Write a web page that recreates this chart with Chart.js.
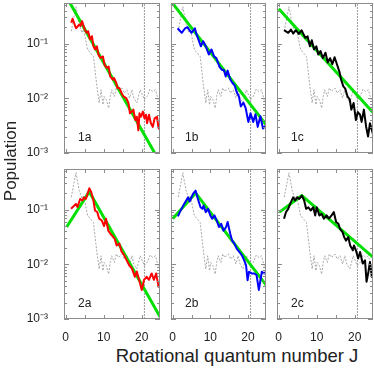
<!DOCTYPE html>
<html>
<head>
<meta charset="utf-8">
<script src="https://cdn.jsdelivr.net/npm/chart.js@4.4.0/dist/chart.umd.min.js"></script>
<style>
  html, body { margin: 0; padding: 0; background: #fff; }
  body { width: 374px; height: 372px; position: relative; overflow: hidden;
         font-family: 'Liberation Sans', Arial, sans-serif; color: #222; }
  canvas { position: absolute; }
  .ytitle { position: absolute; left: 11px; top: 161px; font-size: 17px; white-space: nowrap;
            transform: translate(-50%, -50%) rotate(-90deg); }
  .xtitle { position: absolute; left: 237px; top: 345px; font-size: 18.5px; white-space: nowrap;
            transform: translateX(-50%); }
</style>
</head>
<body>
<canvas id="p1a"></canvas>
<canvas id="p1b"></canvas>
<canvas id="p1c"></canvas>
<canvas id="p2a"></canvas>
<canvas id="p2b"></canvas>
<canvas id="p2c"></canvas>
<div class="ytitle">Population</div>
<div class="xtitle">Rotational quantum number J</div>
<script>
(() => {
  'use strict';

  // reference distribution (gray dotted, same in every panel)
  const grayJ = [1.45, 2.7, 3.55, 4.3, 4.7, 5.75, 7.3, 8.2, 8.8, 9.3, 9.8, 10.1, 10.7, 11.3, 11.7, 12.1, 12.8, 13.3, 13.9, 14.3,
    14.8, 15.4, 16.1, 16.8, 17.4, 17.9, 18.7, 19.6, 20.7, 21.4, 22.2, 22.9, 23.6, 24.3, 24.9];
  const grayPop = [0.168, 0.47, 0.223, 0.157, 0.18, 0.078, 0.058, 0.0165, 0.0082, 0.0143, 0.0076, 0.0108, 0.0094, 0.0066, 0.0108,
    0.0143, 0.0108, 0.0154, 0.0133, 0.0143, 0.0154, 0.0124, 0.0143, 0.0101, 0.0143, 0.0101, 0.0082, 0.0143, 0.0094, 0.0108,
    0.0147, 0.0133, 0.0143, 0.0094, 0.0082];

  const red1aJ = [1.45, 1.8, 2.7, 3.6, 3.9, 4.3, 5.0, 5.5, 5.9, 6.4, 6.9, 7.3, 7.7, 8.2, 8.6, 9.1, 9.8, 10.2, 10.8, 11.3,
    11.7, 12.4, 12.7, 13.3, 13.6, 14.1, 14.7, 15.2, 15.9, 16.5, 16.9, 17.4, 17.8, 18.3, 18.7, 19.1, 19.4, 19.8, 20.3, 20.7,
    21.1, 21.4, 21.9, 22.4, 22.9, 23.4, 24.0, 24.4, 24.9];
  const red1aPop = [0.24, 0.284, 0.19, 0.223, 0.21, 0.257, 0.18, 0.157, 0.168, 0.118, 0.136, 0.089, 0.078, 0.089, 0.063, 0.0547,
    0.058, 0.041, 0.036, 0.038, 0.025, 0.0218, 0.0235, 0.019, 0.0154, 0.0154, 0.0124, 0.0108, 0.0101, 0.0082, 0.0053, 0.0057,
    0.0062, 0.004, 0.0046, 0.0026, 0.0053, 0.0046, 0.0057, 0.0043, 0.005, 0.0035, 0.005, 0.0035, 0.003, 0.0043, 0.0046, 0.0029, 0.0026];

  const blue1bJ = [1.3, 2.4, 3.3, 3.9, 5.0, 5.9, 6.3, 7.5, 8.1, 8.8, 9.6, 10.3, 11.0, 11.6, 12.4, 13.1, 13.6, 14.1, 14.6, 15.3,
    15.9, 16.5, 17.0, 17.6, 18.1, 18.8, 19.4, 20.1, 20.7, 21.4, 22.0, 22.6, 23.3, 24.0, 24.8];
  const blue1bPop = [0.19, 0.157, 0.19, 0.2, 0.157, 0.19, 0.15, 0.089, 0.11, 0.089, 0.063, 0.078, 0.058, 0.054, 0.038, 0.033,
    0.033, 0.025, 0.032, 0.022, 0.019, 0.017, 0.013, 0.0108, 0.0071, 0.0083, 0.0066, 0.0037, 0.0053, 0.0037, 0.0051, 0.003,
    0.0047, 0.0028, 0.0032];

  const black1cJ = [1.4, 2.5, 3.2, 3.8, 4.5, 5.3, 6.0, 7.0, 7.6, 8.2, 8.7, 9.3, 9.9, 10.4, 11.0, 11.6, 12.3, 12.9, 13.5, 14.1,
    14.7, 15.4, 16.0, 16.4, 17.0, 17.5, 18.1, 18.7, 19.1, 19.7, 20.3, 20.8, 21.4, 21.8, 22.4, 23.0, 23.5, 24.0, 24.8];
  const black1cPop = [0.175, 0.157, 0.18, 0.152, 0.175, 0.15, 0.175, 0.127, 0.135, 0.089, 0.115, 0.078, 0.089, 0.063, 0.073,
    0.054, 0.068, 0.045, 0.054, 0.042, 0.056, 0.04, 0.03, 0.022, 0.0165, 0.015, 0.0108, 0.0094, 0.0062, 0.0082, 0.004, 0.0056,
    0.005, 0.0037, 0.0062, 0.003, 0.002, 0.0035, 0.0022];

  const red2aJ = [1.4, 2.7, 3.1, 3.8, 4.4, 4.8, 5.3, 6.2, 6.7, 7.3, 7.7, 8.3, 8.8, 9.5, 10.1, 10.6, 11.2, 11.8, 12.4, 12.9,
    13.4, 14.1, 14.7, 15.3, 16.0, 16.7, 17.4, 18.2, 18.7, 19.3, 20.0, 20.6, 21.3, 21.9, 22.6, 23.2, 23.8, 24.4, 24.8];
  const red2aPop = [0.103, 0.127, 0.111, 0.156, 0.146, 0.167, 0.156, 0.244, 0.21, 0.146, 0.096, 0.09, 0.068, 0.063, 0.05,
    0.068, 0.041, 0.036, 0.032, 0.029, 0.022, 0.024, 0.017, 0.015, 0.012, 0.0096, 0.0084, 0.0059, 0.0074, 0.0052, 0.0034,
    0.0052, 0.0059, 0.0052, 0.0068, 0.0052, 0.0068, 0.0039, 0.0042];

  const blue2bJ = [1.4, 1.9, 2.8, 4.1, 4.5, 5.4, 6.1, 6.7, 7.4, 7.9, 8.2, 8.8, 9.4, 10.0, 10.5, 11.1, 11.7, 12.3, 12.9, 13.5,
    14.2, 14.6, 15.3, 15.8, 16.4, 17.0, 17.7, 18.4, 19.0, 19.5, 19.9, 20.3, 21.0, 21.7, 22.3, 22.9, 23.7, 24.3, 24.8];
  const blue2bPop = [0.075, 0.0895, 0.118, 0.167, 0.14, 0.193, 0.221, 0.156, 0.11, 0.103, 0.118, 0.0895, 0.103, 0.078, 0.068,
    0.078, 0.063, 0.048, 0.055, 0.041, 0.048, 0.059, 0.036, 0.027, 0.0238, 0.0193, 0.0168, 0.0146, 0.0118, 0.0096, 0.0051,
    0.0073, 0.0068, 0.0068, 0.0063, 0.0034, 0.0073, 0.0068, 0.0073];

  const black2cJ = [1.4, 1.9, 2.5, 3.0, 3.8, 4.3, 4.9, 5.4, 6.1, 6.7, 7.2, 7.8, 8.4, 9.1, 9.6, 10.0, 10.7, 11.3, 11.9, 12.6,
    13.2, 13.9, 14.5, 15.1, 15.7, 16.1, 16.8, 17.2, 17.7, 18.3, 18.8, 19.5, 19.8, 20.3, 20.9, 21.4, 22.1, 22.7, 23.1, 23.6,
    24.0, 24.5, 24.8];
  const black2cPop = [0.068, 0.0895, 0.103, 0.127, 0.167, 0.146, 0.167, 0.156, 0.18, 0.146, 0.103, 0.11, 0.096, 0.11, 0.078,
    0.11, 0.078, 0.083, 0.068, 0.078, 0.068, 0.078, 0.0895, 0.059, 0.055, 0.0445, 0.0387, 0.0314, 0.027, 0.0314, 0.0221, 0.018,
    0.0221, 0.018, 0.0127, 0.0168, 0.0103, 0.0118, 0.0048, 0.0073, 0.011, 0.0059, 0.0063];

  // green fits
  const fit1aJ = [1.0, 23.4], fit1aPop = [0.57, 0.001];
  const fit1bJ = [0, 24.8], fit1bPop = [0.54, 0.0033];
  const fit1cJ = [0, 24.8], fit1cPop = [0.43, 0.0055];
  const fit2aJ = [0.25, 6.2, 24.8], fit2aPop = [0.048, 0.212, 0.0011];
  const fit2bJ = [0, 6.1, 24.8], fit2bPop = [0.068, 0.2, 0.0042];
  const fit2cJ = [0.2, 6.1, 24.8], fit2cPop = [0.0895, 0.18, 0.0135];

  const cutoffJ = 20.7;

  const xTicks = [0, 10, 20];
  const xTickMarks = [0, 5, 10, 15, 20];
  const yTicks = [0.001, 0.01, 0.1];
  const yTickLabels = ['10⁻³', '10⁻²', '10⁻¹'];
  const yTickMarks = [0.001, 0.002, 0.003, 0.004, 0.005, 0.006, 0.007, 0.008, 0.009,
    0.01, 0.02, 0.03, 0.04, 0.05, 0.06, 0.07, 0.08, 0.09, 0.1, 0.2, 0.3, 0.4, 0.5];

  const panels = [
    { id: 'p1a', name: '1a', col: 0, row: 0, color: '#ff0000', J: red1aJ, pop: red1aPop, fitJ: fit1aJ, fitPop: fit1aPop },
    { id: 'p1b', name: '1b', col: 1, row: 0, color: '#0000ff', J: blue1bJ, pop: blue1bPop, fitJ: fit1bJ, fitPop: fit1bPop },
    { id: 'p1c', name: '1c', col: 2, row: 0, color: '#000000', J: black1cJ, pop: black1cPop, fitJ: fit1cJ, fitPop: fit1cPop },
    { id: 'p2a', name: '2a', col: 0, row: 1, color: '#ff0000', J: red2aJ, pop: red2aPop, fitJ: fit2aJ, fitPop: fit2aPop },
    { id: 'p2b', name: '2b', col: 1, row: 1, color: '#0000ff', J: blue2bJ, pop: blue2bPop, fitJ: fit2bJ, fitPop: fit2bPop },
    { id: 'p2c', name: '2c', col: 2, row: 1, color: '#000000', J: black2cJ, pop: black2cPop, fitJ: fit2cJ, fitPop: fit2cPop }
  ];

  // panel frames in page pixels
  const colLeft = [64, 171, 277], colRight = [160, 266, 373];
  const rowTop = [3, 169], rowBottom = [153, 319];
  const L = 40, R = 1, T = 4, B = 24;

  const pts = (xs, ys) => xs.map((x, i) => ({ x: x, y: ys[i] }));

  const framePlugin = {
    id: 'frame',
    afterDraw(chart, args, opts) {
      const { ctx, chartArea: a, scales: { x, y } } = chart;
      ctx.save();
      ctx.strokeStyle = '#8c8c8c';
      ctx.lineWidth = 1;
      ctx.strokeRect(a.left + 0.5, a.top + 0.5, a.right - a.left - 1, a.bottom - a.top - 1);
      ctx.beginPath();
      yTickMarks.forEach(v => {
        const py = Math.round(y.getPixelForValue(v)) + 0.5;
        const len = yTicks.includes(v) ? 5 : 3;
        ctx.moveTo(a.left, py); ctx.lineTo(a.left + len, py);
        ctx.moveTo(a.right, py); ctx.lineTo(a.right - len, py);
      });
      xTickMarks.forEach(v => {
        const px = Math.round(x.getPixelForValue(v)) + 0.5;
        ctx.moveTo(px, a.bottom); ctx.lineTo(px, a.bottom - 4);
        ctx.moveTo(px, a.top); ctx.lineTo(px, a.top + 4);
      });
      ctx.stroke();
      ctx.fillStyle = '#222';
      ctx.font = '12px "Liberation Sans", Arial, sans-serif';
      ctx.textBaseline = 'alphabetic';
      ctx.fillText(opts.name, a.left + 14, a.bottom - 12);
      ctx.restore();
    }
  };

  panels.forEach(p => {
    const cv = document.getElementById(p.id);
    const w = colRight[p.col] - colLeft[p.col] + L + R;
    const h = rowBottom[p.row] - rowTop[p.row] + T + B;
    cv.width = w; cv.height = h;
    cv.style.left = (colLeft[p.col] - L) + 'px';
    cv.style.top = (rowTop[p.row] - T) + 'px';

    new Chart(cv, {
      type: 'line',
      data: {
        datasets: [
          {
            data: pts(p.J, p.pop),
            borderColor: p.color,
            borderWidth: 2,
            order: 0
          },
          {
            data: pts(p.fitJ, p.fitPop),
            borderColor: '#00e000',
            borderWidth: 3,
            order: 1
          },
          {
            data: pts(grayJ, grayPop),
            borderColor: '#a8a8a8',
            borderWidth: 1,
            borderDash: [2, 1.5],
            order: 2
          },
          {
            data: [{ x: cutoffJ, y: 0.0009 }, { x: cutoffJ, y: 0.6 }],
            borderColor: '#333',
            borderWidth: 1,
            borderDash: [1, 2],
            order: 3
          }
        ]
      },
      options: {
        responsive: false,
        animation: false,
        events: [],
        layout: { padding: { left: 0, right: R, top: T, bottom: 0 } },
        datasets: { line: { pointRadius: 0, tension: 0, fill: false, clip: 0, borderJoinStyle: 'round' } },
        plugins: {
          legend: { display: false },
          tooltip: { enabled: false },
          frame: { name: p.name }
        },
        scales: {
          x: {
            type: 'linear',
            min: -0.45,
            max: 24.8,
            grid: { display: false },
            border: { display: false },
            afterBuildTicks: s => { s.ticks = xTicks.map(v => ({ value: v })); },
            afterFit: s => { s.height = B; s.paddingLeft = 0; s.paddingRight = 0; },
            ticks: {
              display: p.row === 1,
              padding: 3,
              color: '#222',
              maxRotation: 0,
              font: { family: '"Liberation Sans", Arial, sans-serif', size: 12 }
            }
          },
          y: {
            type: 'logarithmic',
            min: 0.001,
            max: 0.55,
            grid: { display: false },
            border: { display: false },
            afterBuildTicks: s => { s.ticks = yTicks.map(v => ({ value: v, major: true })); },
            afterFit: s => { s.width = L; s.paddingTop = 0; s.paddingBottom = 0; },
            ticks: {
              display: p.col === 0,
              padding: 8,
              color: '#222',
              autoSkip: false,
              font: { family: '"Liberation Sans", Arial, sans-serif', size: 12 },
              callback: v => yTickLabels[yTicks.indexOf(v)]
            }
          }
        }
      },
      plugins: [framePlugin]
    });
  });
})();
</script>
</body>
</html>
